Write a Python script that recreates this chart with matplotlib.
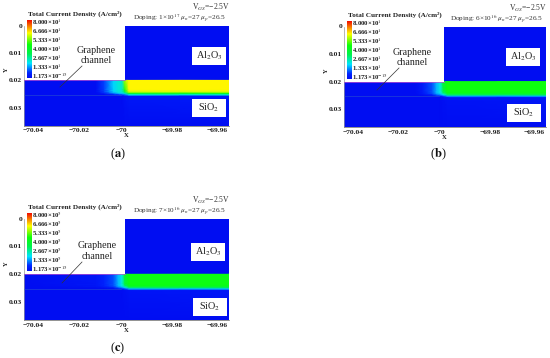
import numpy as np
import matplotlib
matplotlib.use("Agg")
import matplotlib.pyplot as plt
from matplotlib.colors import LinearSegmentedColormap
from matplotlib.patches import Rectangle
from matplotlib.transforms import ScaledTranslation

plt.rcParams['font.family'] = ['Liberation Serif', 'DejaVu Sans']
plt.rcParams['mathtext.fontset'] = 'stix'

W, H = 550, 358

x_ticks = [-70.04, -70.02, -70.0, -69.98, -69.96]
x_tick_labels = ['\u221270.04', '\u221270.02', '\u221270', '\u221269.98', '\u221269.96']
y_ticks = [0, 0.01, 0.02, 0.03]
y_tick_labels = ['0', '0.01', '0.02', '0.03']
cbar_mantissas = ['8.000', '6.666', '5.333', '4.000', '2.667', '1.333']

x_nodes = [-70.043, -70.0125, -70.009, -70.005, -70.003, -70.0015, -70.0002, -69.9985, -69.956]
y_nodes = [0.0, 0.01995, 0.02005, 0.0235, 0.0243, 0.0249, 0.0254, 0.0259, 0.0365]

field_a = [
    [0, 0, 0, 0, 0, 0, 0, 0, 0],
    [0, 0, 0, 0, 0, 0, 0, 0, 0],
    [0, 0, .9, 1.9, 2.3, 2.4, 5.6, 6.3, 6.3],
    [0, 0, .9, 1.9, 2.3, 2.4, 4.8, 6.3, 6.3],
    [0, 0, .9, 1.9, 2.3, 2.3, 3.6, 5.9, 6.0],
    [0, 0, .5, 1.3, 1.8, 1.9, 2.4, 4.4, 4.6],
    [0, 0, .05, .4, .7, .9, 1.2, 2.2, 2.4],
    [0, 0, 0, 0, 0, 0, .2, .3, .4],
    [0, 0, 0, 0, 0, 0, 0, 0, 0],
]
field_b = [
    [0, 0, 0, 0, 0, 0, 0, 0, 0],
    [0, 0, 0, 0, 0, 0, 0, 0, 0],
    [0, 0, .4, 1.0, 1.7, 2.2, 3.9, 4.6, 4.6],
    [0, 0, .4, 1.0, 1.7, 2.2, 3.6, 4.6, 4.6],
    [0, 0, .4, 1.0, 1.7, 2.1, 3.0, 4.4, 4.4],
    [0, 0, .2, .6, 1.2, 1.5, 2.0, 3.2, 3.4],
    [0, 0, 0, .1, .4, .6, .9, 1.6, 1.7],
    [0, 0, 0, 0, 0, 0, .1, .2, .3],
    [0, 0, 0, 0, 0, 0, 0, 0, 0],
]
field_c = [
    [0, 0, 0, 0, 0, 0, 0, 0, 0],
    [0, 0, 0, 0, 0, 0, 0, 0, 0],
    [0, .3, .6, 1.0, 1.7, 2.2, 4.0, 4.5, 4.5],
    [0, .3, .6, 1.0, 1.7, 2.2, 3.7, 4.5, 4.5],
    [0, .3, .6, 1.0, 1.7, 2.1, 3.1, 4.4, 4.4],
    [0, .15, .3, .6, 1.2, 1.5, 2.1, 3.2, 3.4],
    [0, 0, 0, .1, .4, .6, .9, 1.6, 1.8],
    [0, 0, 0, 0, 0, 0, .1, .2, .3],
    [0, 0, 0, 0, 0, 0, 0, 0, 0],
]

cmap = LinearSegmentedColormap.from_list('tcd', [
    (0.0, (0.0, 0.05, 0.95)), (0.09, (0.0, 0.15, 1.0)), (0.25, (0.0, 0.9, 1.0)),
    (0.42, (0.0, 0.95, 0.3)), (0.58, (0.05, 1.0, 0.05)), (0.78, (1.0, 1.0, 0.0)),
    (1.0, (0.95, 0.05, 0.0))])

fig = plt.figure(figsize=(W / 100, H / 100), dpi=100, facecolor='white')
overlay = fig.add_axes([0, 0, 1, 1], zorder=5)
overlay.set_xlim(0, W); overlay.set_ylim(H, 0); overlay.axis('off')
overlay.patch.set_alpha(0)

label_shift_pt = [1.5, 0.7, -3.0, 0.0, -1.5]


def panel(left, right, top, bottom, field, exp_top, doping, tag, tagpos,
          al_pos, si_pos, gr_pos, leader):
    ax = fig.add_axes([left / W, 1 - bottom / H, (right - left) / W, (bottom - top) / H])
    ax.pcolormesh(x_nodes, y_nodes, np.array(field), cmap=cmap, vmin=0, vmax=8,
                  shading='gouraud', rasterized=True)
    ax.add_patch(Rectangle((-70.043, 0), 0.043, 0.02, fc='white', ec='none', zorder=2))
    ax.plot([-70.043, -70.0], [0.02, 0.02], color='#c050d0', lw=0.5, zorder=3)
    ax.plot([-70.043, -70.002], [0.0252, 0.0252], color='#3a6ac0', lw=0.4, alpha=0.7, zorder=3)
    ax.set_xlim(-70.043, -69.956)
    ax.set_ylim(0.0365, 0)
    for s in ax.spines.values():
        s.set_visible(False)
    ax.spines['left'].set_visible(True)
    ax.spines['left'].set_color('#999999')
    ax.spines['left'].set_linewidth(0.5)
    ax.spines['bottom'].set_visible(True)
    ax.spines['bottom'].set_color('#666666')
    ax.spines['bottom'].set_linewidth(0.5)
    ax.set_xticks(x_ticks, x_tick_labels, fontsize=5.4, fontweight='bold', color='#222222')
    ax.set_yticks(y_ticks, y_tick_labels, fontsize=5.4, fontweight='bold', color='#222222')
    ax.tick_params(length=0)
    ax.tick_params(axis='x', pad=2.0)
    ax.tick_params(axis='y', pad=1.2)
    for lab, dx in zip(ax.get_xticklabels(), label_shift_pt):
        lab.set_transform(lab.get_transform() + ScaledTranslation(dx / 72, 0, fig.dpi_scale_trans))
    ax.set_xlabel('X', fontsize=4.8, fontweight='bold', color='#222222')
    ax.xaxis.set_label_coords(0.497, -0.075)
    ax.set_ylabel('Y', fontsize=4.8, fontweight='bold', color='#222222')
    ax.yaxis.set_label_coords(-0.075, 0.56)

    # colour scale
    cax = fig.add_axes([(left + 3.3) / W, 1 - (top + 52.5) / H, 4.5 / W, 58 / H], zorder=6)
    cax.imshow(np.linspace(8, 0, 128)[:, None], cmap=cmap, vmin=0, vmax=8, aspect='auto')
    cax.axis('off')
    overlay.text(left + 4, top - 12, 'Total Current Density (A/cm\u00b2)', fontsize=5.2,
                 fontweight='bold', va='center', ha='left', color='#222222')
    for i, m in enumerate(cbar_mantissas):
        overlay.text(left + 8, top - 3.4 + i * 9.0, f'{m}\u00d710$^{{{exp_top}}}$', fontsize=4.9,
                     fontweight='bold', va='center', ha='left', color='#222222')
    overlay.text(left + 8, top - 3.4 + 6 * 9.0, '1.173\u00d710$^{\u221215}$', fontsize=4.9,
                 fontweight='bold', va='center', ha='left', color='#222222')

    overlay.text(right + 1.5, top - 18.5, 'V$_{GS}$=\u22122.5V', fontsize=5.5, ha='right', va='center', color='#333333')
    overlay.text(right - 3, top - 6.5, f'Doping: {doping} $\\mu_n$=27 $\\mu_p$=26.5', fontsize=5.2,
                 ha='right', va='center', color='#333333')

    for txt, (cx, cy) in [('Al$_2$O$_3$', al_pos), ('SiO$_2$', si_pos)]:
        overlay.add_patch(Rectangle((cx - 17, cy - 9), 34, 18, fc='white', ec='none'))
        overlay.text(cx, cy, txt, fontsize=7.3, ha='center', va='center', color='#222222')
    overlay.text(gr_pos[0], gr_pos[1], 'Graphene\nchannel', fontsize=7.2, ha='center', va='center',
                 linespacing=1.15, color='#222222')
    overlay.plot(leader[0], leader[1], color='#333333', lw=0.5)
    overlay.text(tagpos[0], tagpos[1], tag, fontsize=9, ha='center', va='center', color='#111111')


panel(24, 229, 25.5, 125.5, field_a, 1, '1\u00d710$^{17}$', '($\\mathbf{a}$)', (118, 154),
      (209, 55.5), (209, 107.5), (96, 55.5), ([82, 60], [66, 87]))
panel(343.7, 546, 26.5, 127, field_b, 1, '6\u00d710$^{16}$', '($\\mathbf{b}$)', (438, 154),
      (523, 57), (524, 113), (412, 57.5), ([399, 377], [68, 90]))
panel(24, 229, 218.7, 320, field_c, 5, '7\u00d710$^{16}$', '($\\mathbf{c}$)', (118, 348),
      (208, 251.6), (210, 307), (97, 251), ([82, 62], [262, 283]))

fig.savefig('out.png', dpi=100)
